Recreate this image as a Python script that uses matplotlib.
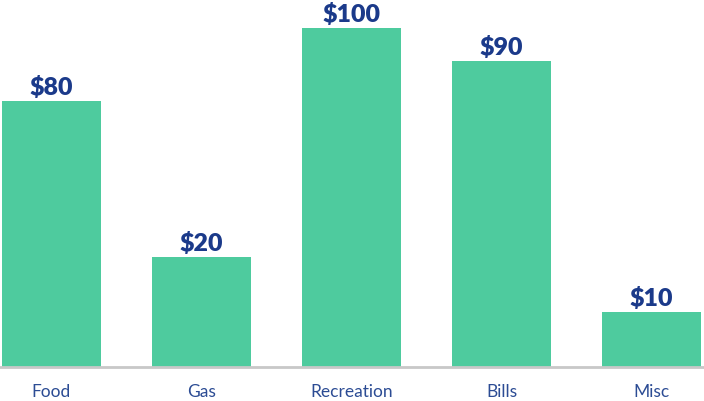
import matplotlib
matplotlib.use('Agg')
from matplotlib import pyplot

CATEGORIES = ['Food', 'Gas', 'Recreation', 'Bills', 'Misc']
BAR_HEIGHTS = [78.5, 32.4, 100.0, 90.3, 16.2]  # bar heights as drawn in the picture
VALUE_LABELS = ['$80', '$20', '$100', '$90', '$10']

CLR_BAR = '#4ECB9E'
CLR_VALUE = '#1B3A8A'
CLR_CATEGORY = '#2C4C94'
CLR_AXIS = '#C8C8C8'

W, H, DPI = 704, 401, 100

fig = pyplot.figure(figsize=(W / DPI, H / DPI), dpi=DPI)
ax = fig.add_axes([0, 34 / H, 1, 339 / H])

x = list(range(len(CATEGORIES)))
bars = ax.bar(x, BAR_HEIGHTS, width=0.66, color=CLR_BAR, zorder=2)

for rect, text in zip(bars, VALUE_LABELS):
    ax.annotate(text, (rect.get_x() + rect.get_width() / 2, rect.get_height()),
                xytext=(0, 6), textcoords='offset pixels', ha='center', va='baseline',
                fontsize=18, fontweight='heavy', color=CLR_VALUE, family='Lato',
                annotation_clip=False)

ax.set_xlim(-0.343, 4.35)
ax.set_ylim(0, 100)
ax.set_xticks(x)
ax.set_xticklabels(CATEGORIES, fontsize=12.5, color=CLR_CATEGORY, family='Lato')
ax.tick_params(axis='x', length=0, pad=12)
ax.set_yticks([])
for side in ('top', 'left', 'right'):
    ax.spines[side].set_visible(False)
ax.spines['bottom'].set_color(CLR_AXIS)
ax.spines['bottom'].set_linewidth(2)
ax.patch.set_visible(False)

fig.savefig('out.png', dpi=DPI)
